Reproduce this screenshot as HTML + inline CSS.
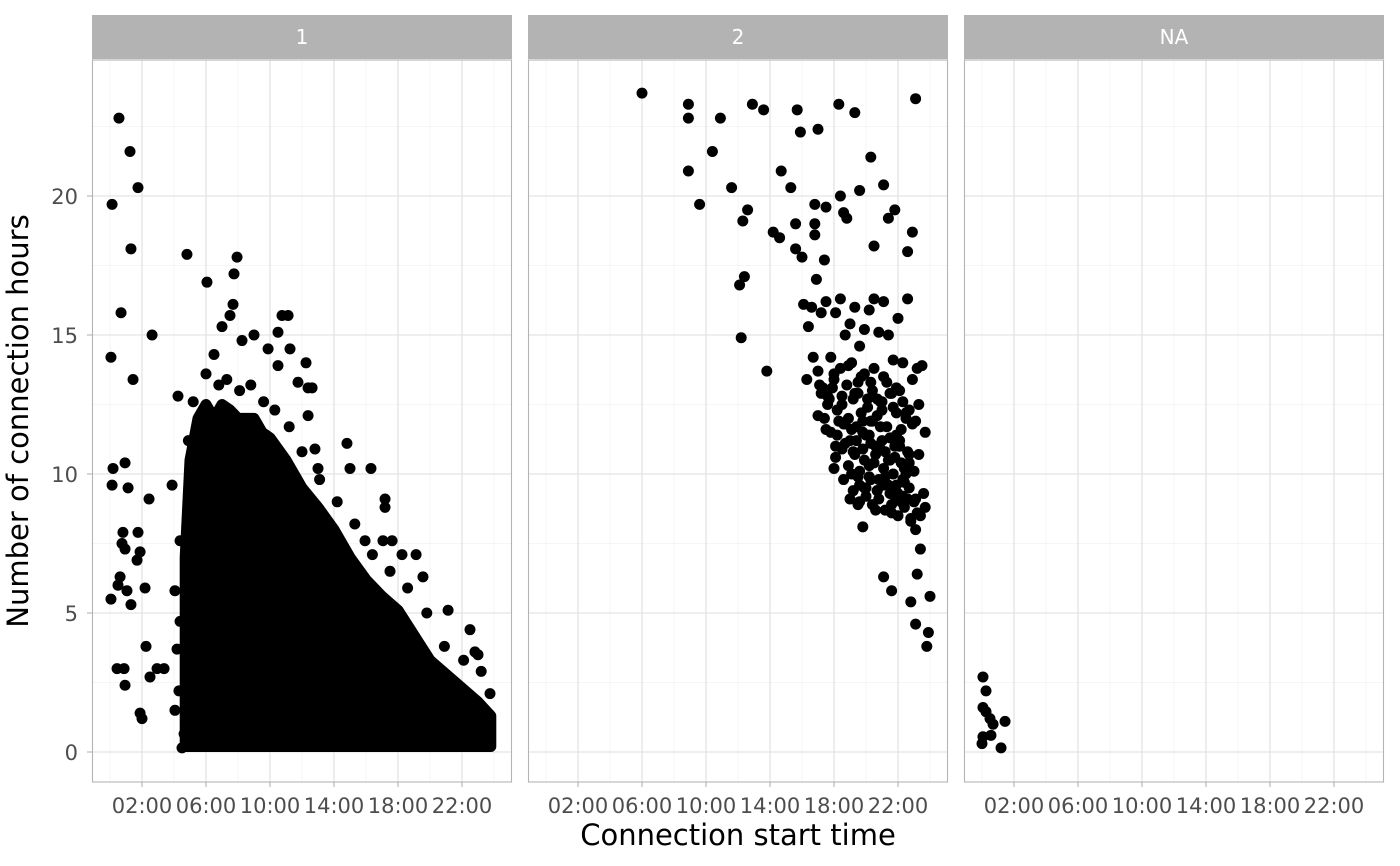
<!DOCTYPE html>
<html><head><meta charset="utf-8"><style>
html,body{margin:0;padding:0;background:#fff;width:1400px;height:866px;overflow:hidden}
svg text{font-family:"DejaVu Sans","Liberation Sans",sans-serif}
</style></head><body>
<svg id="chart" width="1400" height="866" xmlns="http://www.w3.org/2000/svg"></svg>
<script>
const panels = ["1","2","NA"];
const xTickLabels = ["02:00","06:00","10:00","14:00","18:00","22:00"];
const xTickHours = [2,6,10,14,18,22];
const yTicks = [0,5,10,15,20];
// dense core envelope for panel 1 (hour, upper value)
const coreHours = [4.7,5.0,5.5,6.0,6.5,7.0,7.5,8.0,8.5,9.0,9.5,10,11,12,13,14,15,16,17,18,19,20,21,22,23,23.8];
const coreUpper = [7,10.5,12,12.5,12,12.5,12.3,12,12,12,11.5,11.3,10.5,9.5,8.8,8,7,6.2,5.6,5.1,4.2,3.3,2.8,2.3,1.8,1.3];
const coreLower = 0.2;
// panel 1 outliers
const p1Hours = [0.06,0.13,0.13,0.19,0.06,0.56,0.69,1.25,1.31,1.75,1.44,0.94,1.13,0.81,0.75,0.94,0.5,0.63,1.06,1.31,0.44,0.88,0.94,1.69,1.75,1.88,2.19,2.25,1.88,2.0,2.63,2.44,2.5,2.94,3.38,3.88,4.25,4.81,6.06,7.94,7.75,7.69,7.5,7.0,6.5,8.25,9.0,9.88,10.5,10.75,11.13,11.25,10.5,11.75,12.25,12.38,12.63,12.38,14.81,12.81,13.0,15.0,16.31,17.19,17.19,15.94,17.06,17.63,18.25,19.13,19.56,21.13,22.5,22.81,23.0,23.75,4.38,4.06,4.38,4.19,4.31,4.06,4.63,4.5,
5.2,6.0,6.8,7.3,8.1,8.8,9.6,10.3,11.2,12.0,13.1,14.2,15.3,16.4,17.5,18.6,19.8,20.9,22.1,23.2,4.9,5.3,4.8,5.1];
const p1Vals = [14.2,19.7,9.6,10.2,5.5,22.8,15.8,21.6,18.1,20.3,13.4,10.4,9.5,7.9,7.5,7.3,6.0,6.3,5.8,5.3,3.0,3.0,2.4,6.9,7.9,7.2,5.9,3.8,1.4,1.2,15.0,9.1,2.7,3.0,3.0,9.6,12.8,17.9,16.9,17.8,17.2,16.1,15.7,15.3,14.3,14.8,15.0,14.5,15.1,15.7,15.7,14.5,13.9,13.3,14.0,13.1,13.1,12.1,11.1,10.9,10.2,10.2,10.2,9.1,8.8,7.6,7.6,7.6,7.1,7.1,6.3,5.1,4.4,3.6,3.5,2.1,7.6,5.8,4.7,3.7,2.2,1.5,0.65,0.15,
12.6,13.6,13.2,13.4,13.0,13.2,12.6,12.3,11.7,10.8,9.8,9.0,8.2,7.1,6.5,5.9,5.0,3.8,3.3,2.9,11.2,8.0,4.5,2.0];
// panel 2
const p2Hours = [6.0,8.9,8.9,8.9,9.6,10.9,10.4,11.6,12.9,13.6,15.7,15.9,17.0,18.3,19.3,23.1,12.6,12.3,12.4,12.1,12.2,13.8,14.7,15.3,14.2,14.6,15.6,15.6,16.0,16.8,16.8,16.8,17.5,17.4,18.4,18.6,18.8,19.6,20.3,21.1,21.4,21.8,20.5,22.6,22.9,19.8,21.1,21.6,22.8,23.1,24.0,23.9,23.8,23.2,23.4,
16.1,16.4,16.6,16.9,17.2,17.5,17.8,18.1,18.4,18.7,19.0,19.3,19.6,19.9,20.2,20.5,20.8,21.1,21.4,21.7,22.0,22.3,22.6,22.9,23.2,23.5,
16.3,16.7,17.1,17.6,18.0,18.5,18.9,19.3,19.7,20.1,20.5,20.9,21.3,21.7,22.1,22.5,22.9,23.3,23.7,
17.0,17.5,18.1,18.7,19.2,19.8,20.3,20.9,21.5,22.1,22.7,23.3,
18.0,18.6,19.1,19.6,20.2,20.7,21.2,21.8,22.4,23.0,23.6,
19.0,19.5,20.0,20.6,21.1,21.6,22.2,22.8,23.4,20.4,21.0,21.9,22.5,23.1,23.7];
const p2Vals = [23.7,23.3,22.8,20.9,19.7,22.8,21.6,20.3,23.3,23.1,23.1,22.3,22.4,23.3,23.0,23.5,19.5,19.1,17.1,16.8,14.9,13.7,20.9,20.3,18.7,18.5,19.0,18.1,17.8,19.7,19.0,18.6,19.6,17.7,20.0,19.4,19.2,20.2,21.4,20.4,19.2,19.5,18.2,18.0,18.7,8.1,6.3,5.8,5.4,4.6,5.6,4.3,3.8,6.4,7.3,
16.1,15.3,16.0,17.0,15.8,16.2,14.2,15.8,16.3,15.0,15.4,16.0,14.6,15.2,15.9,16.3,15.1,16.2,15.0,14.1,15.6,14.0,16.3,13.4,13.8,13.9,
13.4,14.2,13.2,12.8,13.6,12.5,13.9,12.9,13.5,12.7,13.8,12.6,13.3,12.4,13.0,12.2,11.8,12.5,11.5,
12.1,11.6,11.0,11.8,10.8,11.5,11.1,10.9,10.5,11.2,10.4,10.7,
10.2,9.8,10.0,9.6,10.3,9.4,9.9,9.2,9.7,9.0,9.3,
9.1,8.9,9.5,8.7,9.6,8.6,9.0,8.3,8.5,11.9,12.3,11.4,10.0,8.0,8.8];
// panel 2 dense cluster extra points
const p2bHours = [17.2,17.6,17.9,18.2,18.5,18.9,19.2,19.5,19.8,20.1,20.4,20.7,21.0,21.3,21.6,21.9,22.2,22.5,
17.4,17.8,18.3,18.7,19.1,19.4,19.7,20.0,20.3,20.6,20.9,21.2,21.5,21.8,22.1,22.4,22.7,
18.1,18.5,18.9,19.3,19.6,19.9,20.2,20.5,20.8,21.1,21.4,21.7,22.0,22.3,22.6,
19.2,19.6,20.0,20.4,20.8,21.2,21.6,22.0,22.4,22.8,23.2,
17.0,17.3,17.7,18.0,18.4,18.8,19.1,19.5,19.9,20.3,20.7,21.1,21.5,21.9,22.3,22.7,23.1,
18.2,18.6,19.0,19.4,19.8,20.2,20.6,21.0,21.4,21.8,22.2,22.6,23.0,
19.5,19.9,20.3,20.7,21.1,21.5,21.9,22.3,22.7,23.1];
const p2bVals = [12.9,12.5,13.1,12.3,12.8,12.0,12.7,13.3,11.9,12.4,13.0,12.1,12.6,11.7,12.9,12.2,11.6,12.0,
12.0,11.5,11.9,11.1,11.6,11.2,12.2,11.4,11.9,11.0,11.7,10.8,11.3,10.6,11.0,10.2,10.7,
10.6,10.9,10.3,10.7,10.1,10.5,9.9,10.4,9.8,10.2,9.6,10.0,9.3,9.8,9.1,
9.4,9.0,9.2,8.9,9.1,8.7,8.9,8.5,8.8,8.4,8.6,
13.7,13.1,12.7,13.4,13.8,13.2,14.0,12.9,13.6,13.3,12.7,13.5,12.9,13.1,12.6,12.3,11.9,
11.4,11.8,11.2,11.7,10.9,11.4,10.7,11.2,10.5,11.0,10.4,10.8,10.1,
9.9,9.5,9.8,9.4,9.7,9.3,9.6,9.2,9.5,9.1];
// panel NA
const p3Hours = [0.06,0.25,0.06,0.25,0.5,0.69,0.06,0.0,0.56,1.44,1.19];
const p3Vals = [2.7,2.2,1.6,1.45,1.2,1.0,0.55,0.3,0.6,1.1,0.15];

const NS="http://www.w3.org/2000/svg";
const svg=document.getElementById('chart');
const panelX=[92,528,964], panelW=420, plotTop=60, plotBottom=782;
function xScale(p,h){return panelX[p]+18+h*16;}
function yScale(v){return 752-v*27.8;}
function mk(tag,attrs,parent){const e=document.createElementNS(NS,tag);for(const k in attrs)e.setAttribute(k,attrs[k]);(parent||svg).appendChild(e);return e;}

panels.forEach((lab,p)=>{
  const g=mk('g',{});
  
  
  const x0=panelX[p];
  mk('rect',{x:x0,y:plotTop,width:panelW,height:plotBottom-plotTop,fill:'#fff'},g);
  for(let v=2.5;v<25;v+=5){mk('line',{x1:x0,x2:x0+panelW,y1:yScale(v),y2:yScale(v),stroke:'#f2f2f2','stroke-width':0.7},g);}
  for(let h=0;h<=24;h+=4){mk('line',{x1:xScale(p,h),x2:xScale(p,h),y1:plotTop,y2:plotBottom,stroke:'#f2f2f2','stroke-width':0.7},g);}
  yTicks.forEach(v=>mk('line',{x1:x0,x2:x0+panelW,y1:yScale(v),y2:yScale(v),stroke:'#dedede','stroke-width':1.1},g));
  xTickHours.forEach(h=>mk('line',{x1:xScale(p,h),x2:xScale(p,h),y1:plotTop,y2:plotBottom,stroke:'#dedede','stroke-width':1.1},g));
  mk('rect',{x:x0+0.5,y:plotTop,width:panelW-1,height:plotBottom-plotTop,fill:'none',stroke:'#b3b3b3','stroke-width':1.1},g);
  const strip=mk('rect',{x:x0,y:15,width:panelW,height:44,fill:'#b3b3b3'},g);
  
  
  const st=mk('text',{x:x0+panelW/2,y:44,'text-anchor':'middle','font-size':20,fill:'#fff'},g);
  st.textContent=lab;
  xTickHours.forEach((h,i)=>{
    mk('line',{x1:xScale(p,h),x2:xScale(p,h),y1:plotBottom,y2:plotBottom+5,stroke:'#b3b3b3','stroke-width':1.1},g);
    const t=mk('text',{x:xScale(p,h),y:813,'text-anchor':'middle','font-size':21,fill:'#4d4d4d'},g);
    t.textContent=xTickLabels[i];
  });
});
yTicks.forEach(v=>{
  mk('line',{x1:87,x2:92,y1:yScale(v),y2:yScale(v),stroke:'#b3b3b3','stroke-width':1.1});
  const t=mk('text',{x:78,y:yScale(v)+8,'text-anchor':'end','font-size':21,fill:'#4d4d4d'});
  
  
  t.textContent=v;
});
let pts=coreHours.map((h,i)=>xScale(0,h)+','+yScale(coreUpper[i]));
pts.push(xScale(0,coreHours[coreHours.length-1])+','+yScale(coreLower));
pts.push(xScale(0,coreHours[0])+','+yScale(coreLower));
const core=mk('polygon',{points:pts.join(' '),fill:'#000',stroke:'#000','stroke-width':11,'stroke-linejoin':'round'});


function dots(p,hs,vs){
  hs.forEach((h,i)=>{
    const c=mk('circle',{cx:xScale(p,h),cy:yScale(vs[i]),r:5.5,fill:'#000'});
    
    
  });
}
dots(0,p1Hours,p1Vals);dots(1,p2Hours,p2Vals);dots(1,p2bHours,p2bVals);dots(2,p3Hours,p3Vals);
const xt=mk('text',{x:738,y:845,'text-anchor':'middle','font-size':29,fill:'#000'});


xt.textContent='Connection start time';
const yt=mk('text',{x:28,y:421,'text-anchor':'middle','font-size':29,fill:'#000',transform:'rotate(-90 28 421)'});


yt.textContent='Number of connection hours';
</script>
</body></html>
